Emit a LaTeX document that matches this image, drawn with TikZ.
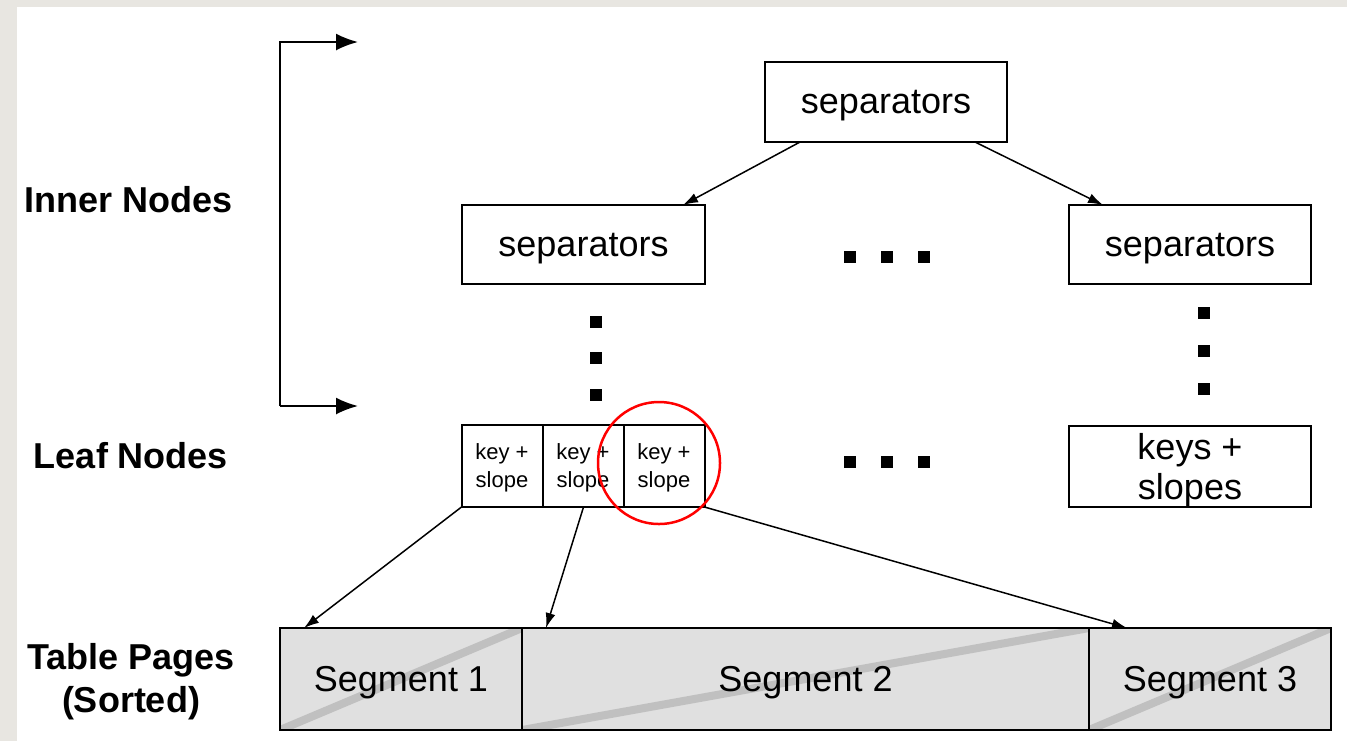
\documentclass[tikz,border=0pt]{standalone}
\usepackage{fontspec}
\setmainfont{Liberation Sans}
\usetikzlibrary{arrows.meta}
\tikzset{>={Latex[width=5pt,length=7.5pt]}}
\definecolor{paper}{RGB}{232,230,225}
\definecolor{segfill}{RGB}{224,224,224}
\definecolor{segline}{RGB}{192,192,192}

\begin{document}
\begin{tikzpicture}[x=0.5pt, y=-0.5pt,
    box/.style={draw, line width=1pt, inner sep=0pt, outer sep=0pt,
      align=center, text depth=0pt, font=\fontsize{18}{20}\selectfont},
    cell/.style={box, minimum width=40.5pt, minimum height=41pt,
      font=\fontsize{11}{14}\selectfont},
    seg/.style={box, fill=segfill, minimum height=51pt,
      path picture={
        \draw[segline, line width=4pt, line cap=round]
          (path picture bounding box.south west) --
          (path picture bounding box.north east);}},
    lbl/.style={font=\fontsize{18}{21.5}\selectfont\bfseries, align=center},
    tree/.style={->, line width=0.75pt}]

  %% paper edge and page
  \fill[paper](0,0) rectangle (1347,741);
  \fill[white](17,7) rectangle (1347,741);
  \useasboundingbox (0,0) rectangle (1347,741);

  %% level names
  \node[lbl] (inner) at (129,200) {Inner Nodes};
  \node[lbl] (leaf) at (131,456) {Leaf Nodes};
  \node[lbl] (pages) at (131,682) {Table Pages\\(Sorted)};

  %% inner levels
  \node[box, minimum width=121pt, minimum height=40pt] (root) at (886,102) {separators};
  \node[box, minimum width=121.5pt, minimum height=39.5pt] (sepL) at (583.5,244.5) {separators};
  \node[box, minimum width=121pt, minimum height=39.5pt] (sepR) at (1190,244.5) {separators};

  \draw[tree]([xshift=17.5pt]root.south west) -- ([xshift=-11pt]sepL.north east);
  \draw[tree]([xshift=-16pt]root.south east) -- ([xshift=17pt]sepR.north west);

  %% leaf level
  \node[cell] (keyA) at (502,466) {key +\\slope};
  \node[cell, anchor=west] (keyB) at (keyA.east) {key +\\slope};
  \node[cell, anchor=west] (keyC) at (keyB.east) {key +\\slope};
  \node[box, minimum width=121pt, minimum height=40.5pt] (keyR) at (1190,466.5) {keys +\\slopes};

  \node[circle, draw=red, line width=1.25pt, minimum size=61pt, inner sep=0pt] (mark) at (659,463) {};

  %% dots
  \foreach \x in {850,887,924}{
    \fill(\x-6,251) rectangle (\x+6,263);
    \fill(\x-6,456) rectangle (\x+6,468);
  }
  \foreach \y in {322,358,395}
    \fill(590,\y-6) rectangle (602,\y+6);
  \foreach \y in {313,351,389}
    \fill(1198,\y-6) rectangle (1210,\y+6);

  %% table pages
  \node[seg, minimum width=121pt] (segA) at (401,679) {Segment 1};
  \node[seg, minimum width=283.5pt, anchor=west] (segB) at (segA.east) {Segment 2};
  \node[seg, minimum width=121pt, anchor=west] (segC) at (segB.east) {Segment 3};

  \draw[tree](keyA.south west) -- ([xshift=12pt]segA.north west);
  \draw[tree]([xshift=-20pt]keyB.south east) -- ([xshift=12pt]segB.north west);
  \draw[tree](keyC.south east) -- ([xshift=19pt]segC.north west);

  %% bracket over the inner levels
  \coordinate (topTip) at (358,42);
  \coordinate (botTip) at (358,406);
  \draw[-{Latex[width=8.5pt,length=11pt]}, line width=1pt]
    (botTip -| 280,0) -- (280,42) -- (topTip);
  \draw[-{Latex[width=8.5pt,length=11pt]}, line width=1pt]
    (280,406) -- (botTip);

\end{tikzpicture}
\end{document}
